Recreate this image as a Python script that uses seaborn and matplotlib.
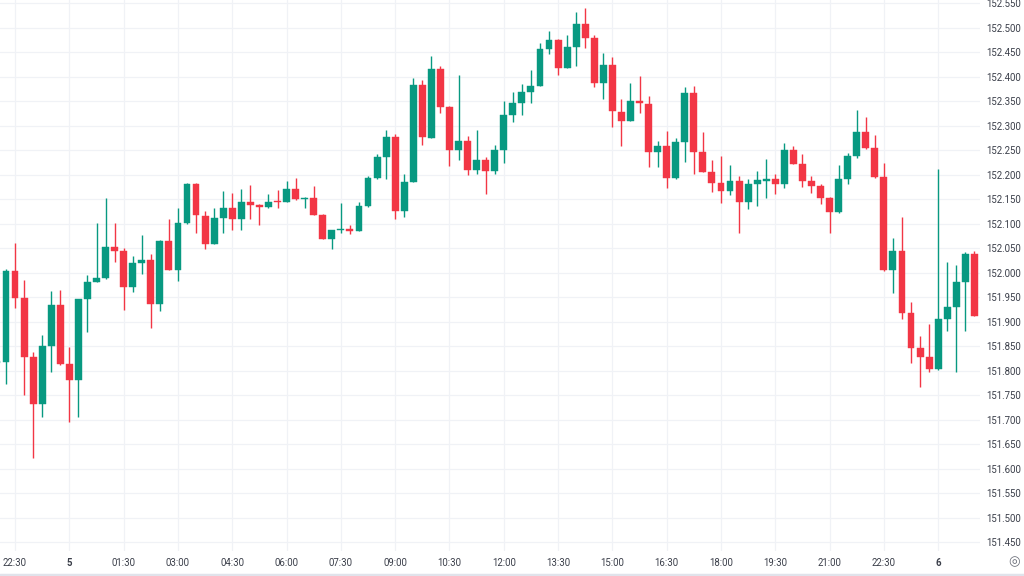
import numpy as np
import pandas as pd
import matplotlib
matplotlib.use("Agg")
import matplotlib.pyplot as plt
import seaborn as sns

# ---- data (15-minute candles) ----
opens = [151.816, 151.818, 152.003, 151.949, 151.827, 151.732, 151.851, 151.935, 151.814, 151.781,
         151.946, 151.982, 151.989, 152.053, 152.044, 151.971, 152.019, 152.026, 151.936, 152.065,
         152.006, 152.101, 152.181, 152.116, 152.059, 152.112, 152.133, 152.109, 152.145, 152.138,
         152.135, 152.146, 152.145, 152.171, 152.151, 152.152, 152.118, 152.069, 152.087, 152.088,
         152.086, 152.136, 152.193, 152.237, 152.276, 152.126, 152.186, 152.384, 152.275, 152.415,
         152.338, 152.250, 152.269, 152.210, 152.230, 152.208, 152.250, 152.321, 152.346, 152.368,
         152.381, 152.456, 152.475, 152.418, 152.461, 152.508, 152.478, 152.388, 152.423, 152.328,
         152.310, 152.350, 152.344, 152.247, 152.259, 152.193, 152.267, 152.366, 152.247, 152.206,
         152.184, 152.167, 152.188, 152.145, 152.180, 152.187, 152.191, 152.182, 152.250, 152.222,
         152.187, 152.177, 152.153, 152.123, 152.191, 152.238, 152.287, 152.254, 152.195, 152.006,
         152.044, 151.918, 151.846, 151.827, 151.803, 151.905, 151.929, 151.980, 152.038]
highs = [151.822, 152.007, 152.061, 151.985, 151.839, 151.873, 151.963, 151.965, 151.849, 151.947,
         151.996, 152.102, 152.152, 152.101, 152.050, 152.034, 152.077, 152.038, 152.066, 152.110,
         152.133, 152.183, 152.184, 152.126, 152.133, 152.167, 152.163, 152.170, 152.179, 152.140,
         152.161, 152.169, 152.187, 152.194, 152.154, 152.176, 152.119, 152.088, 152.142, 152.097,
         152.145, 152.197, 152.242, 152.291, 152.284, 152.201, 152.397, 152.393, 152.442, 152.422,
         152.340, 152.403, 152.279, 152.291, 152.236, 152.261, 152.351, 152.369, 152.386, 152.414,
         152.468, 152.493, 152.476, 152.485, 152.531, 152.541, 152.485, 152.448, 152.441, 152.354,
         152.388, 152.401, 152.361, 152.269, 152.290, 152.274, 152.378, 152.380, 152.288, 152.230,
         152.238, 152.220, 152.197, 152.191, 152.208, 152.231, 152.201, 152.264, 152.259, 152.242,
         152.197, 152.182, 152.154, 152.220, 152.244, 152.332, 152.317, 152.281, 152.224, 152.070,
         152.114, 151.941, 151.871, 151.895, 152.211, 152.021, 152.016, 152.042, 152.044]
lows = [151.812, 151.773, 151.927, 151.750, 151.621, 151.706, 151.798, 151.812, 151.695, 151.706,
        151.878, 151.981, 151.988, 152.022, 151.924, 151.961, 151.997, 151.888, 151.922, 152.005,
        151.984, 152.100, 152.082, 152.048, 152.058, 152.082, 152.087, 152.087, 152.109, 152.097,
        152.131, 152.133, 152.144, 152.148, 152.133, 152.117, 152.068, 152.048, 152.080, 152.079,
        152.085, 152.135, 152.192, 152.191, 152.109, 152.114, 152.185, 152.261, 152.274, 152.325,
        152.218, 152.230, 152.199, 152.201, 152.161, 152.201, 152.223, 152.308, 152.322, 152.346,
        152.380, 152.447, 152.403, 152.417, 152.422, 152.458, 152.379, 152.354, 152.297, 152.259,
        152.309, 152.325, 152.216, 152.215, 152.172, 152.192, 152.225, 152.201, 152.205, 152.165,
        152.143, 152.159, 152.082, 152.129, 152.136, 152.152, 152.160, 152.173, 152.221, 152.174,
        152.163, 152.140, 152.080, 152.121, 152.182, 152.235, 152.253, 152.193, 152.004, 151.958,
        151.905, 151.816, 151.767, 151.798, 151.802, 151.880, 151.798, 151.880, 151.911]
closes = [151.820, 152.004, 151.949, 151.827, 151.732, 151.851, 151.935, 151.814, 151.781, 151.946,
          151.982, 151.989, 152.053, 152.044, 151.971, 152.019, 152.026, 151.936, 152.065, 152.006,
          152.101, 152.181, 152.118, 152.059, 152.112, 152.133, 152.109, 152.145, 152.138, 152.135,
          152.145, 152.145, 152.171, 152.150, 152.153, 152.118, 152.069, 152.087, 152.088, 152.086,
          152.136, 152.193, 152.237, 152.276, 152.126, 152.186, 152.384, 152.276, 152.415, 152.338,
          152.250, 152.269, 152.210, 152.230, 152.208, 152.250, 152.321, 152.346, 152.368, 152.381,
          152.456, 152.475, 152.418, 152.461, 152.508, 152.478, 152.388, 152.423, 152.330, 152.310,
          152.350, 152.346, 152.247, 152.259, 152.193, 152.267, 152.366, 152.247, 152.206, 152.184,
          152.167, 152.188, 152.145, 152.180, 152.189, 152.191, 152.182, 152.250, 152.222, 152.188,
          152.177, 152.153, 152.123, 152.191, 152.238, 152.287, 152.254, 152.195, 152.006, 152.044,
          151.918, 151.846, 151.827, 151.803, 151.905, 151.929, 151.980, 152.038, 151.912]

start_time = "2024-04-04 22:00"
tick_labels = ["22:30", "5", "01:30", "03:00", "04:30", "06:00", "07:30", "09:00", "10:30",
               "12:00", "13:30", "15:00", "16:30", "18:00", "19:30", "21:00", "22:30", "6"]
price_ticks = np.round(np.arange(151.45, 152.5501, 0.05), 3)

# ---- styling ----
UP = "#089981"
DOWN = "#F23645"
GRID = "#f0f2f6"
TXT = "#3b3f4a"

sns.set_theme(style="white")
plt.rcParams["font.family"] = ["Roboto", "DejaVu Sans"]

times = pd.date_range(start_time, periods=len(opens), freq="15min")
df = pd.DataFrame({"time": times, "open": opens, "high": highs, "low": lows, "close": closes})
df["x"] = np.arange(len(df))
df["up"] = df["close"] >= df["open"]

fig = plt.figure(figsize=(10.24, 5.76), dpi=100)
ax = fig.add_axes([0, 25 / 576, 980 / 1024, 551 / 576])

# tick positions: every 90 minutes starting at 22:30
t0 = times[2]
tick_pos = [i for i, t in enumerate(times) if ((t - t0).total_seconds() % 5400 == 0) and t >= t0]
tick_pos = tick_pos[:len(tick_labels)]

for p in tick_pos:
    ax.axvline(p, color=GRID, lw=0.9, zorder=0)
for p in price_ticks:
    ax.axhline(p, color=GRID, lw=0.9, zorder=0)

colors = np.where(df["up"], UP, DOWN)
ax.vlines(df["x"], df["low"], df["high"], colors=colors, lw=1.0, zorder=2)
bottoms = np.minimum(df["open"], df["close"])
heights = np.maximum(np.abs(df["close"] - df["open"]), 0.0022)
ax.bar(df["x"], heights, bottom=bottoms, width=0.76, color=colors, edgecolor=colors,
       linewidth=0.3, zorder=3)

ax.set_xlim(0.337, 108.62)
ax.set_ylim(151.432, 152.5565)

for s in ax.spines.values():
    s.set_visible(False)

ax.yaxis.tick_right()
ax.set_yticks(price_ticks)
ax.set_yticklabels([f"{v:.3f}" for v in price_ticks])
ax.tick_params(axis="y", length=0, pad=4.5, labelsize=6.9, labelcolor=TXT)

ax.set_xticks(tick_pos)
ax.set_xticklabels(tick_labels)
ax.tick_params(axis="x", length=0, pad=4.8, labelsize=6.9, labelcolor=TXT)
for lab in ax.get_xticklabels():
    if lab.get_text() in ("5", "6"):
        lab.set_fontweight("bold")

ax.grid(False)

# settings icon and bottom border
fig.text(1014 / 1024, 1 - 562 / 576, "◎", ha="center", va="center", fontsize=9.5,
         color="#6a6d78", family="DejaVu Sans")
fig.add_artist(plt.Line2D([0, 1], [1.5 / 576, 1.5 / 576], color="#e0e3eb", lw=2.5,
                          transform=fig.transFigure))

fig.savefig("out.png", dpi=100, facecolor="white")
